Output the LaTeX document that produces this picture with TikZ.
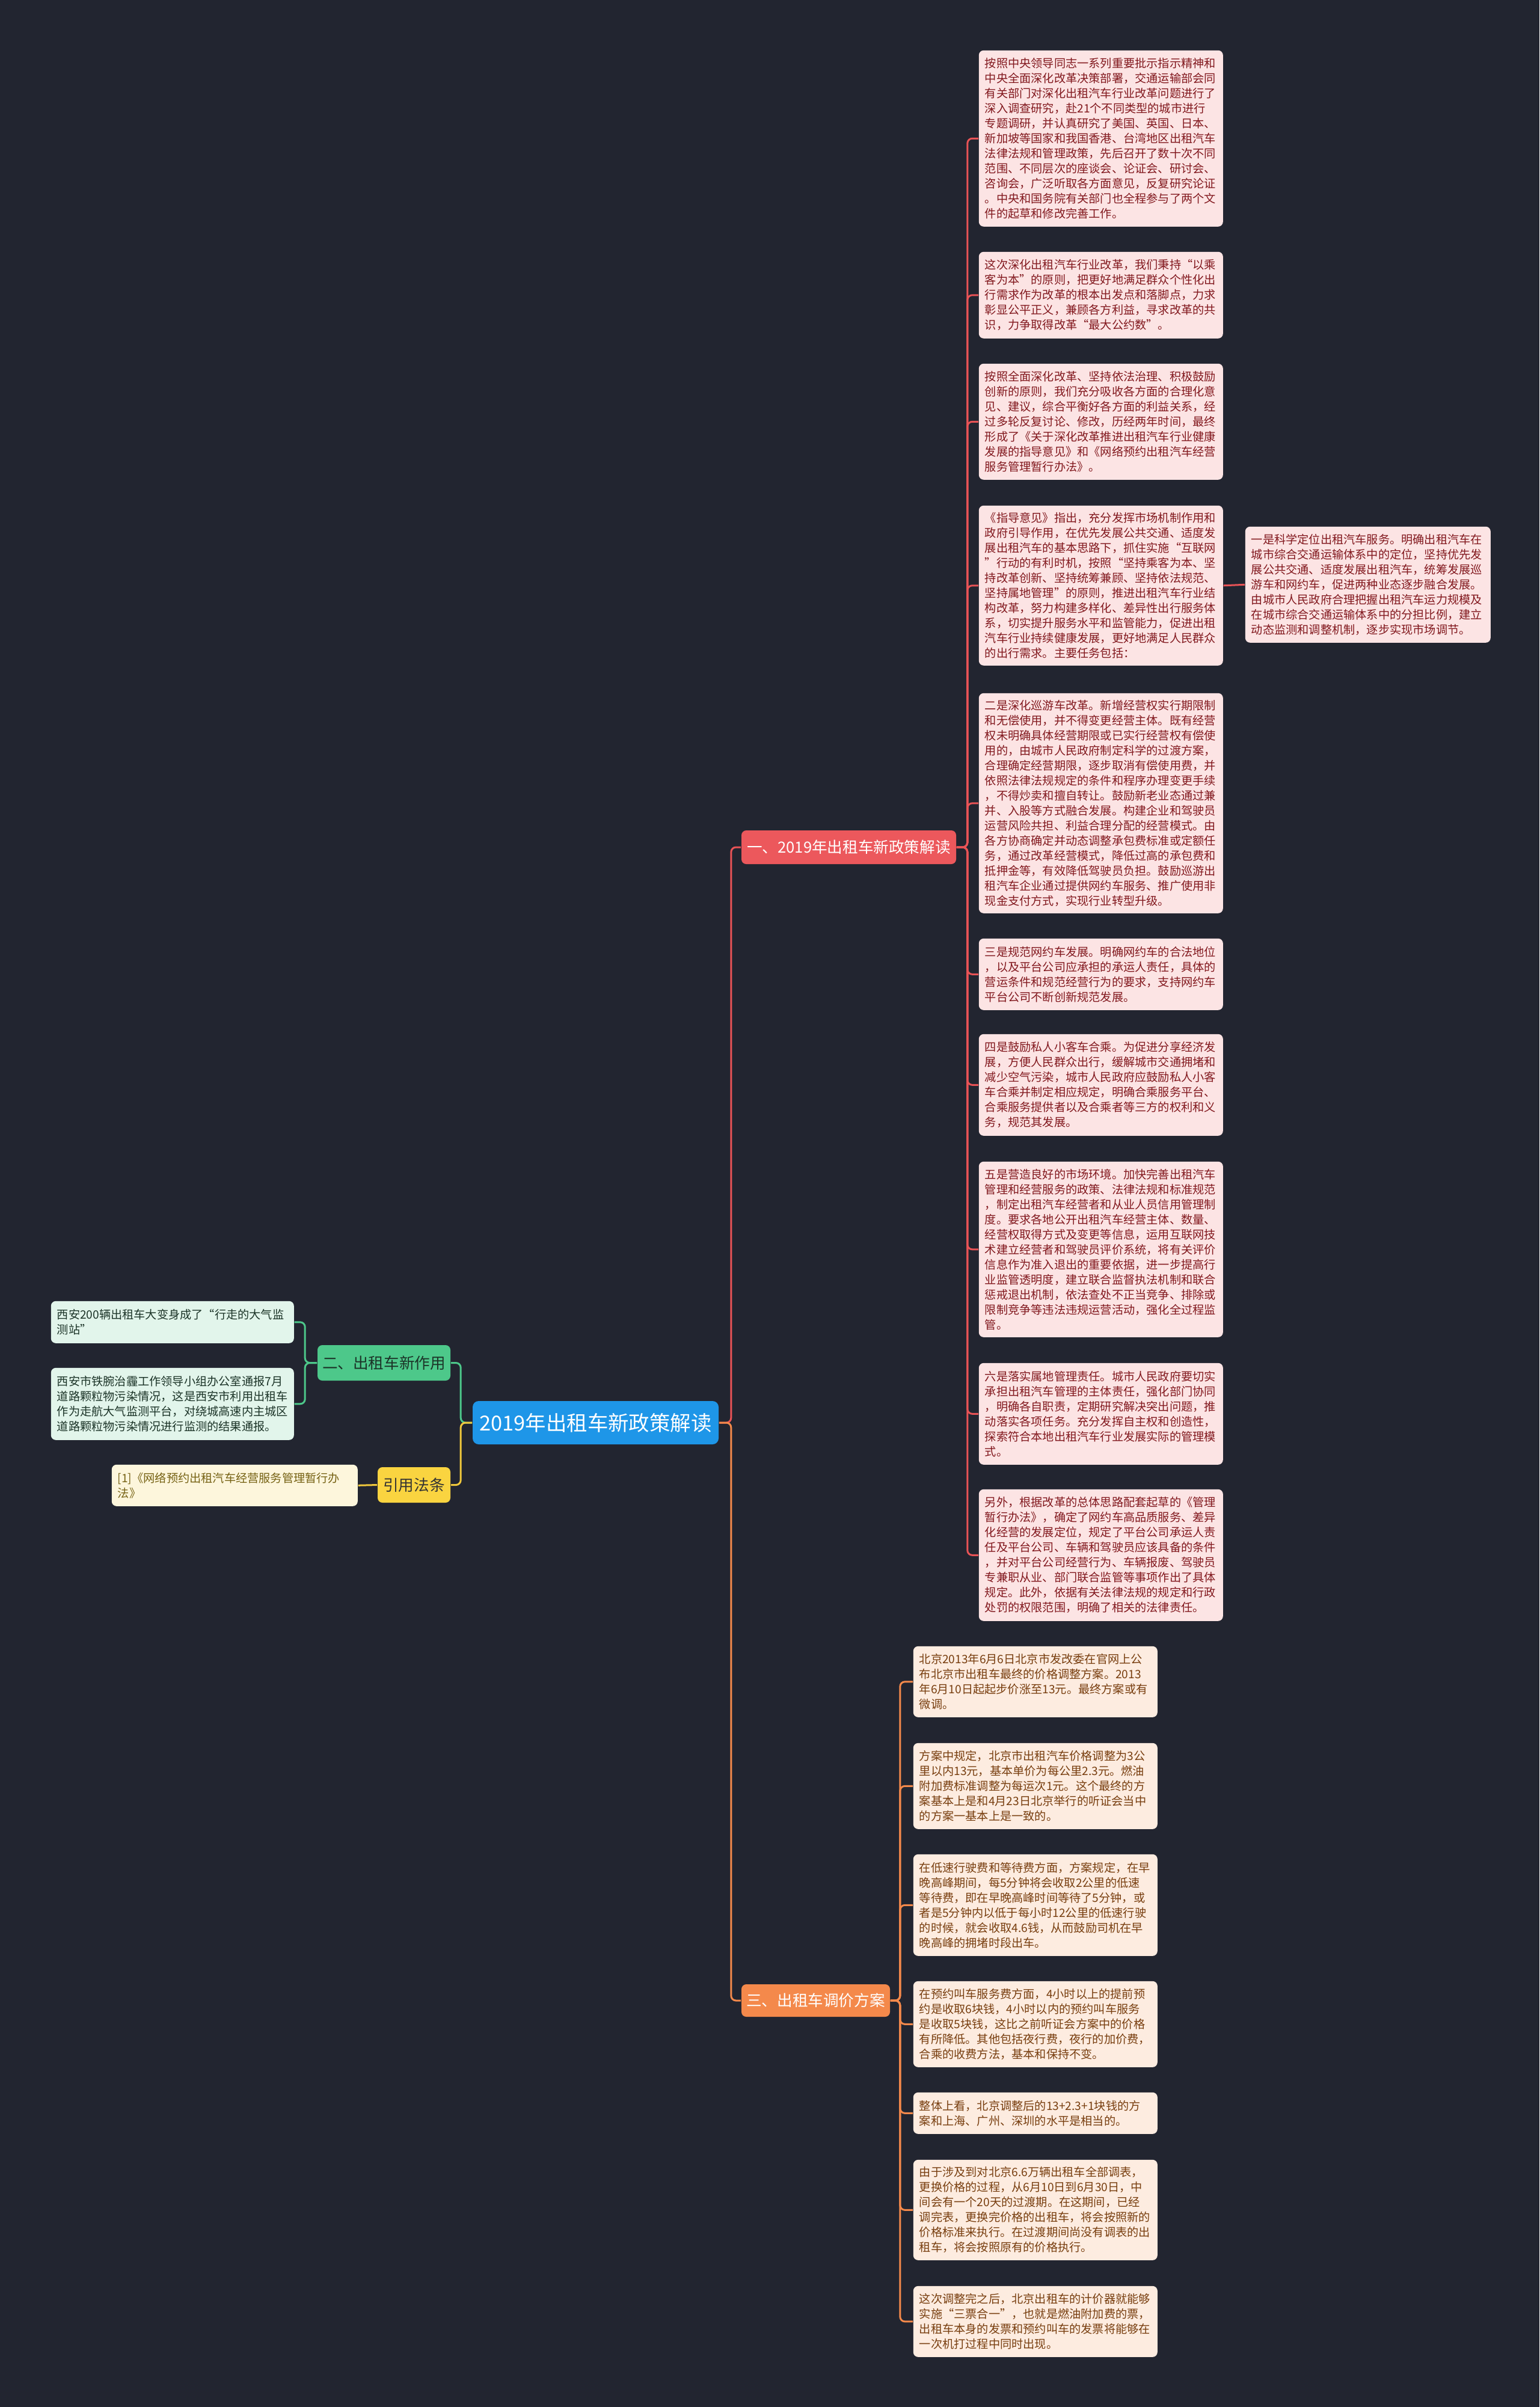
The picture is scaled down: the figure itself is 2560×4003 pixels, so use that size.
\documentclass[tikz,border=0pt]{standalone}
\usepackage{fontspec}
\setmainfont{Noto Sans CJK SC}
\definecolor{bgc}{RGB}{34,37,48}
\definecolor{pinkfill}{RGB}{252,228,228}
\definecolor{redtext}{RGB}{130,24,30}
\definecolor{redline}{RGB}{232,83,86}
\definecolor{redbranch}{RGB}{236,88,92}
\definecolor{peachfill}{RGB}{253,236,224}
\definecolor{browntext}{RGB}{120,62,15}
\definecolor{orangeline}{RGB}{244,137,75}
\definecolor{greenbranch}{RGB}{77,200,138}
\definecolor{greenfill}{RGB}{226,245,235}
\definecolor{greentext}{RGB}{28,52,40}
\definecolor{yellowbranch}{RGB}{250,212,64}
\definecolor{yellowfill}{RGB}{253,246,220}
\definecolor{olivetext}{RGB}{118,98,20}
\definecolor{yellowline}{RGB}{240,200,60}
\definecolor{rootblue}{RGB}{30,150,232}
\begin{document}
\begin{tikzpicture}[x=0.25pt,y=-0.25pt,
  leafbox/.style={rectangle, rounded corners=2pt, anchor=north west, inner xsep=2.5pt, inner ysep=0pt,
    align=left, font=\fontsize{4.8pt}{6.25pt}\selectfont},
  redleaf/.style={leafbox, fill=pinkfill, text=redtext, text width=96.5pt},
  orangeleaf/.style={leafbox, fill=peachfill, text=browntext, text width=96.5pt},
  greenleaf/.style={leafbox, fill=greenfill, text=greentext, text width=96pt},
  yellowleaf/.style={leafbox, fill=yellowfill, text=olivetext, text width=97.25pt},
  branchbox/.style={rectangle, rounded corners=2pt, inner sep=0pt, align=center, font=\fontsize{6.4pt}{7.5pt}\selectfont},
  conn/.style={line width=0.75pt, rounded corners=2pt}
]
\fill[bgc] (0,0) rectangle (2560,4003);
\useasboundingbox (0,0) rectangle (2560,4003);

% root and branches
\node[branchbox, fill=rootblue, text=white, minimum width=102.25pt, minimum height=18pt, rounded corners=2.5pt, font=\fontsize{8.6pt}{10pt}\selectfont] (root) at (990.5,2366) {2019年出租车新政策解读};
\node[branchbox, fill=redbranch, text=white, minimum width=89.25pt, minimum height=14pt] (b1) at (1411.5,1409) {一、2019年出租车新政策解读};
\node[branchbox, fill=orangeline, text=white, minimum width=61.75pt, minimum height=13.5pt] (b3) at (1356.5,3327) {三、出租车调价方案};
\node[branchbox, fill=greenbranch, text=greentext, minimum width=55.25pt, minimum height=14.75pt] (b2) at (638.5,2266.5) {二、出租车新作用};
\node[branchbox, fill=yellowbranch, text=black!80, minimum width=30.25pt, minimum height=14.75pt] (b4) at (688.5,2469.5) {引用法条};

% red children
\node[redleaf, minimum height=73.25pt] (c1) at (1627,83) {按照中央领导同志一系列重要批示指示精神和\\中央全面深化改革决策部署，交通运输部会同\\有关部门对深化出租汽车行业改革问题进行了\\深入调查研究，赴21个不同类型的城市进行\\专题调研，并认真研究了美国、英国、日本、\\新加坡等国家和我国香港、台湾地区出租汽车\\法律法规和管理政策，先后召开了数十次不同\\范围、不同层次的座谈会、论证会、研讨会、\\咨询会，广泛听取各方面意见，反复研究论证\\。中央和国务院有关部门也全程参与了两个文\\件的起草和修改完善工作。};
\node[redleaf, minimum height=36pt] (c2) at (1627,418) {这次深化出租汽车行业改革，我们秉持“以乘\\客为本”的原则，把更好地满足群众个性化出\\行需求作为改革的根本出发点和落脚点，力求\\彰显公平正义，兼顾各方利益，寻求改革的共\\识，力争取得改革“最大公约数”。};
\node[redleaf, minimum height=48.25pt] (c3) at (1627,604) {按照全面深化改革、坚持依法治理、积极鼓励\\创新的原则，我们充分吸收各方面的合理化意\\见、建议，综合平衡好各方面的利益关系，经\\过多轮反复讨论、修改，历经两年时间，最终\\形成了《关于深化改革推进出租汽车行业健康\\发展的指导意见》和《网络预约出租汽车经营\\服务管理暂行办法》。};
\node[redleaf, minimum height=66.5pt] (c4) at (1627,840) {《指导意见》指出，充分发挥市场机制作用和\\政府引导作用，在优先发展公共交通、适度发\\展出租汽车的基本思路下，抓住实施“互联网\\”行动的有利时机，按照“坚持乘客为本、坚\\持改革创新、坚持统筹兼顾、坚持依法规范、\\坚持属地管理”的原则，推进出租汽车行业结\\构改革，努力构建多样化、差异性出行服务体\\系，切实提升服务水平和监管能力，促进出租\\汽车行业持续健康发展，更好地满足人民群众\\的出行需求。主要任务包括：};
\node[redleaf, text width=97pt, minimum height=48.25pt] (s1) at (2070,875) {一是科学定位出租汽车服务。明确出租汽车在\\城市综合交通运输体系中的定位，坚持优先发\\展公共交通、适度发展出租汽车，统筹发展巡\\游车和网约车，促进两种业态逐步融合发展。\\由城市人民政府合理把握出租汽车运力规模及\\在城市综合交通运输体系中的分担比例，建立\\动态监测和调整机制，逐步实现市场调节。};
\node[redleaf, minimum height=91.5pt] (c5) at (1627,1152) {二是深化巡游车改革。新增经营权实行期限制\\和无偿使用，并不得变更经营主体。既有经营\\权未明确具体经营期限或已实行经营权有偿使\\用的，由城市人民政府制定科学的过渡方案，\\合理确定经营期限，逐步取消有偿使用费，并\\依照法律法规规定的条件和程序办理变更手续\\，不得炒卖和擅自转让。鼓励新老业态通过兼\\并、入股等方式融合发展。构建企业和驾驶员\\运营风险共担、利益合理分配的经营模式。由\\各方协商确定并动态调整承包费标准或定额任\\务，通过改革经营模式，降低过高的承包费和\\抵押金等，有效降低驾驶员负担。鼓励巡游出\\租汽车企业通过提供网约车服务、推广使用非\\现金支付方式，实现行业转型升级。};
\node[redleaf, minimum height=29.75pt] (c6) at (1627,1560) {三是规范网约车发展。明确网约车的合法地位\\，以及平台公司应承担的承运人责任，具体的\\营运条件和规范经营行为的要求，支持网约车\\平台公司不断创新规范发展。};
\node[redleaf, minimum height=42.25pt] (c7) at (1627,1719) {四是鼓励私人小客车合乘。为促进分享经济发\\展，方便人民群众出行，缓解城市交通拥堵和\\减少空气污染，城市人民政府应鼓励私人小客\\车合乘并制定相应规定，明确合乘服务平台、\\合乘服务提供者以及合乘者等三方的权利和义\\务，规范其发展。};
\node[redleaf, minimum height=73pt] (c8) at (1627,1931) {五是营造良好的市场环境。加快完善出租汽车\\管理和经营服务的政策、法律法规和标准规范\\，制定出租汽车经营者和从业人员信用管理制\\度。要求各地公开出租汽车经营主体、数量、\\经营权取得方式及变更等信息，运用互联网技\\术建立经营者和驾驶员评价系统，将有关评价\\信息作为准入退出的重要依据，进一步提高行\\业监管透明度，建立联合监督执法机制和联合\\惩戒退出机制，依法查处不正当竞争、排除或\\限制竞争等违法违规运营活动，强化全过程监\\管。};
\node[redleaf, minimum height=42.25pt] (c9) at (1627,2266) {六是落实属地管理责任。城市人民政府要切实\\承担出租汽车管理的主体责任，强化部门协同\\，明确各自职责，定期研究解决突出问题，推\\动落实各项任务。充分发挥自主权和创造性，\\探索符合本地出租汽车行业发展实际的管理模\\式。};
\node[redleaf, minimum height=54.75pt] (c10) at (1627,2476) {另外，根据改革的总体思路配套起草的《管理\\暂行办法》，确定了网约车高品质服务、差异\\化经营的发展定位，规定了平台公司承运人责\\任及平台公司、车辆和驾驶员应该具备的条件\\，并对平台公司经营行为、车辆报废、驾驶员\\专兼职从业、部门联合监管等事项作出了具体\\规定。此外，依据有关法律法规的规定和行政\\处罚的权限范围，明确了相关的法律责任。};

% orange children
\node[orangeleaf, minimum height=29.5pt] (p1) at (1518,2737) {北京2013年6月6日北京市发改委在官网上公\\布北京市出租车最终的价格调整方案。2013\\年6月10日起起步价涨至13元。最终方案或有\\微调。};
\node[orangeleaf, minimum height=35.75pt] (p2) at (1518,2898) {方案中规定，北京市出租汽车价格调整为3公\\里以内13元，基本单价为每公里2.3元。燃油\\附加费标准调整为每运次1元。这个最终的方\\案基本上是和4月23日北京举行的听证会当中\\的方案一基本上是一致的。};
\node[orangeleaf, minimum height=42.25pt] (p3) at (1518,3083) {在低速行驶费和等待费方面，方案规定，在早\\晚高峰期间，每5分钟将会收取2公里的低速\\等待费，即在早晚高峰时间等待了5分钟，或\\者是5分钟内以低于每小时12公里的低速行驶\\的时候，就会收取4.6钱，从而鼓励司机在早\\晚高峰的拥堵时段出车。};
\node[orangeleaf, minimum height=35.75pt] (p4) at (1518,3294) {在预约叫车服务费方面，4小时以上的提前预\\约是收取6块钱，4小时以内的预约叫车服务\\是收取5块钱，这比之前听证会方案中的价格\\有所降低。其他包括夜行费，夜行的加价费，\\合乘的收费方法，基本和保持不变。};
\node[orangeleaf, minimum height=17.25pt] (p5) at (1518,3479) {整体上看，北京调整后的13+2.3+1块钱的方\\案和上海、广州、深圳的水平是相当的。};
\node[orangeleaf, minimum height=41.75pt] (p6) at (1518,3591) {由于涉及到对北京6.6万辆出租车全部调表，\\更换价格的过程，从6月10日到6月30日，中\\间会有一个20天的过渡期。在这期间，已经\\调完表，更换完价格的出租车，将会按照新的\\价格标准来执行。在过渡期间尚没有调表的出\\租车，将会按照原有的价格执行。};
\node[orangeleaf, minimum height=29.5pt] (p7) at (1518,3801) {这次调整完之后，北京出租车的计价器就能够\\实施“三票合一”，也就是燃油附加费的票，\\出租车本身的发票和预约叫车的发票将能够在\\一次机打过程中同时出现。};

% left side leaves
\node[greenleaf, minimum height=17.5pt] (l1) at (84,2163) {西安200辆出租车大变身成了“行走的大气监\\测站”};
\node[greenleaf, minimum height=30pt] (l2) at (84,2274) {西安市铁腕治霾工作领导小组办公室通报7月\\道路颗粒物污染情况，这是西安市利用出租车\\作为走航大气监测平台，对绕城高速内主城区\\道路颗粒物污染情况进行监测的结果通报。};
\node[yellowleaf, minimum height=17.25pt] (r1) at (185,2435) {[1]《网络预约出租汽车经营服务管理暂行办\\法》};

% connectors
\draw[conn, redline] (root.east) -- ++(20,0) |- (b1.west);
\draw[conn, orangeline] (root.east) -- ++(20,0) |- (b3.west);
\draw[conn, greenbranch] (root.west) -- ++(-19,0) |- (b2.east);
\draw[conn, yellowline] (root.west) -- ++(-19,0) |- (b4.east);
\foreach \c in {c1,c2,c3,c4,c5,c6,c7,c8,c9,c10}
  \draw[conn, redline] (b1.east) -- ++(18,0) |- (\c.west);
\draw[conn, redline] (c4.east) -- (s1.west);
\foreach \p in {p1,p2,p3,p4,p5,p6,p7}
  \draw[conn, orangeline] (b3.east) -- ++(16,0) |- (\p.west);
\draw[conn, greenbranch] (b2.west) -- ++(-20,0) |- (l1.east);
\draw[conn, greenbranch] (b2.west) -- ++(-20,0) |- (l2.east);
\draw[conn, yellowline] (b4.west) -- (r1.east);
\end{tikzpicture}
\end{document}
